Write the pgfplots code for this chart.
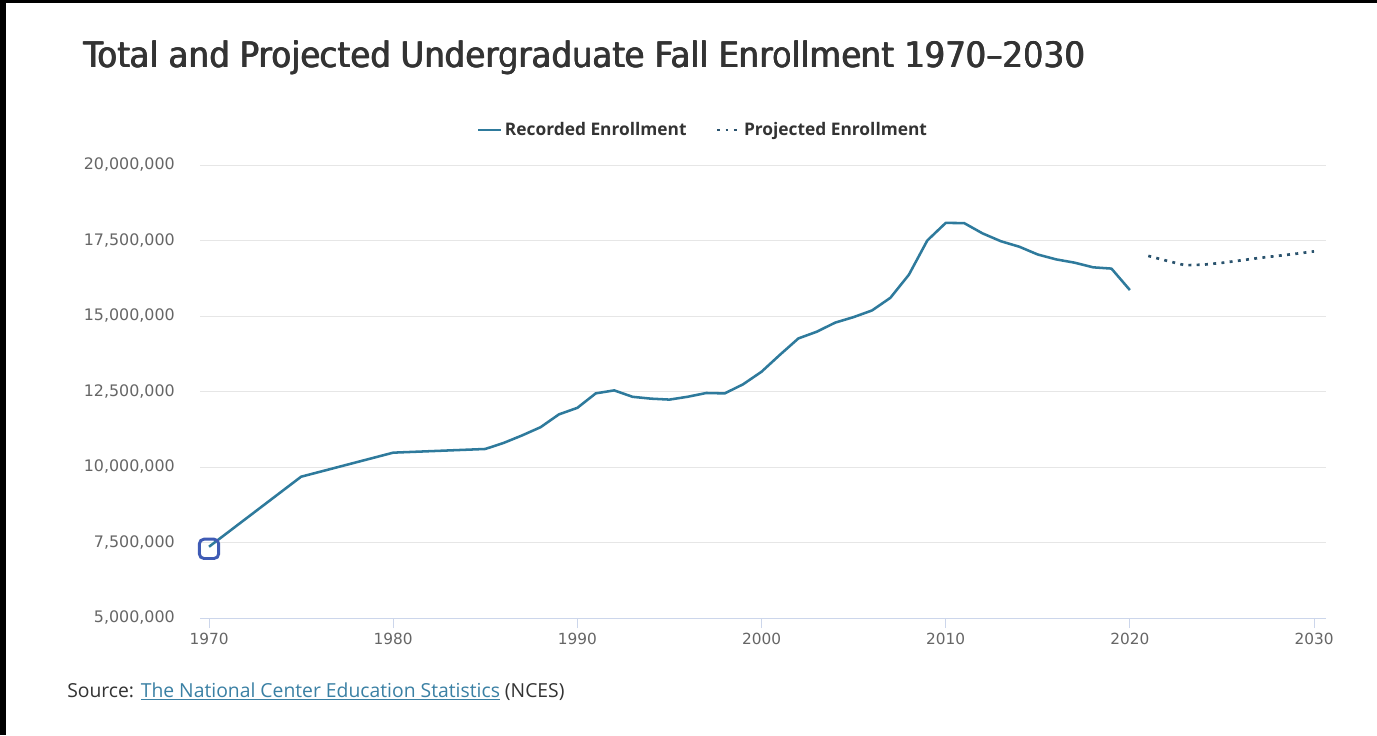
\documentclass[border=0pt]{standalone}
\usepackage{pgfplots}
\pgfplotsset{compat=1.18}
\usepackage{fontspec}
\setmainfont{Open Sans}
\newfontfamily\dejavu{DejaVu Sans}
\definecolor{recc}{HTML}{2E7A9C}
\definecolor{projc}{HTML}{2A536E}
\definecolor{gridc}{HTML}{E6E6E6}
\definecolor{axisc}{HTML}{CCD6EB}
\definecolor{tickc}{HTML}{666666}
\definecolor{titlec}{HTML}{333333}
\definecolor{linkc}{HTML}{3A80A4}
\definecolor{markc}{HTML}{3F5BB5}
\newcommand{\titletext}{\resizebox{751pt}{20pt}{\dejavu Total and Projected Undergraduate Fall Enrollment 1970–2030}}
\begin{document}
\begin{tikzpicture}
\fill[black] (0pt,0pt) rectangle (1032.75pt,-551.25pt);
\fill[white] (4.5pt,-2.25pt) rectangle (1032.75pt,-551.25pt);
\node[anchor=base west, inner sep=0pt, text=titlec] at (62.25pt,-51pt) {\titletext};
\node[anchor=base west, inner sep=0pt, text=titlec] at (62.6pt,-51pt) {\titletext};
\node[anchor=base west, inner sep=0pt, text=titlec] at (62.95pt,-51pt) {\titletext};
\node[anchor=base west, inner sep=0pt, font=\fontsize{14.5}{16}\selectfont] at (50.25pt,-522.75pt)
  {\textcolor{titlec}{Source:} \textcolor{linkc}{\underline{The National Center Education Statistics}} \textcolor{titlec}{(NCES)}};
\begin{axis}[
  at={(150pt,-463.5pt)}, anchor=south west,
  scale only axis, width=844.5pt, height=339.75pt,
  xmin=1969.51, xmax=2030.65, ymin=5000000, ymax=20000000,
  axis x line*=bottom, axis y line*=left,
  x axis line style={draw=axisc, line width=0.75pt},
  y axis line style={draw=none},
  xtick={1970,1980,...,2030},
  ytick={5000000,7500000,...,20000000},
  tick align=outside,
  major tick length=7.5pt,
  xtick style={draw=axisc, line width=0.75pt},
  ytick style={draw=none},
  ymajorgrids, grid style={draw=gridc, line width=0.75pt},
  scaled y ticks=false,
  /pgf/number format/assume math mode=true,
  xticklabel style={font=\dejavu\fontsize{11.5}{12}\selectfont, text=tickc, /pgf/number format/1000 sep={}},
  yticklabel style={font=\dejavu\fontsize{11.9}{13}\selectfont, text=tickc, /pgf/number format/fixed, /pgf/number format/1000 sep={,}, anchor=east, inner sep=0pt, xshift=-11.25pt},
  legend columns=2,
  legend style={draw=none, fill=none, at={(0.447,1.077)}, anchor=center,
    font=\bfseries\fontsize{13}{15}\selectfont, text=titlec,
    /tikz/every even column/.append style={column sep=20pt}},
]
\addplot[recc, line width=1.9pt, line join=round] coordinates {
(1970,7360000) (1975,9679000) (1980,10475000) (1985,10597000)
(1986,10798000) (1987,11046000) (1988,11317000) (1989,11743000)
(1990,11959000) (1991,12439000) (1992,12537000) (1993,12324000)
(1994,12263000) (1995,12232000) (1996,12327000) (1997,12451000)
(1998,12437000) (1999,12739000) (2000,13155000) (2001,13716000)
(2002,14257000) (2003,14480000) (2004,14781000) (2005,14964000)
(2006,15184000) (2007,15604000) (2008,16366000) (2009,17500000)
(2010,18082000) (2011,18077000) (2012,17736000) (2013,17475000)
(2014,17293000) (2015,17036000) (2016,16874000) (2017,16766000)
(2018,16612000) (2019,16570000) (2020,15860000)
};
\addlegendentry{Recorded Enrollment}
\addplot[projc, line width=2pt, dash pattern=on 2.2pt off 4pt] coordinates {
(2021,16990000) (2022,16830000) (2023,16680000) (2024,16700000)
(2025,16760000) (2026,16840000) (2027,16920000) (2028,16990000)
(2029,17060000) (2030,17140000)
};
\addlegendentry{Projected Enrollment}
\addplot[forget plot, only marks, mark=none, nodes near coords={},
  every node near coord/.style={draw=markc, line width=2.2pt, rounded corners=3.5pt,
    minimum size=14.5pt, inner sep=0pt, anchor=center, fill=none}]
  coordinates {(1970,7290000)};
\end{axis}
\end{tikzpicture}
\end{document}
